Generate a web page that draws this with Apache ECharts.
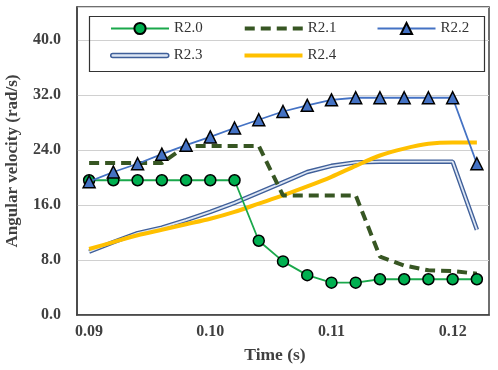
<!DOCTYPE html>
<html>
<head>
<meta charset="utf-8">
<script src="https://cdn.jsdelivr.net/npm/echarts@6/dist/echarts.min.js"></script>
<style>html,body{margin:0;padding:0;background:#fff}#c{width:498px;height:370px}</style>
</head>
<body>
<div id="c"></div>
<script>
var time = [0.090,0.092,0.094,0.096,0.098,0.100,0.102,0.104,0.106,0.108,0.110,0.112,0.114,0.116,0.118,0.120,0.122];
var r20 = [19.6,19.6,19.6,19.6,19.6,19.6,19.6,10.8,7.8,5.8,4.7,4.7,5.2,5.2,5.2,5.2,5.2];
var r21 = [22.1,22.1,22.1,22.1,24.6,24.6,24.6,24.6,17.4,17.4,17.4,17.4,8.5,7.2,6.5,6.4,6.0];
var r22 = [19.4,20.8,22.0,23.4,24.7,25.9,27.2,28.4,29.6,30.5,31.3,31.6,31.6,31.6,31.6,31.6,22.0];
var r23 = [9.2,10.6,11.9,12.7,13.8,15.0,16.3,17.8,19.3,20.8,21.7,22.2,22.3,22.3,22.3,22.3,12.4];
var r24 = [9.6,10.6,11.6,12.4,13.2,14.0,15.0,16.2,17.4,18.7,20.1,21.7,23.2,24.2,24.9,25.1,25.1];
var yTicks = [0, 8, 16, 24, 32, 40];
var xTicks = [0.09, 0.10, 0.11, 0.12];

function pairs(v){ return time.map(function(t,i){ return [t, v[i]]; }); }

var serif = 'Liberation Serif';
var hidden = { opacity: 0 };
var chart = echarts.init(document.getElementById('c'));
chart.setOption({
  animation: false,
  backgroundColor: '#fff',
  grid: { left: 77, right: 9, top: 7, bottom: 55, containLabel: false, outerBoundsMode: 'none',
          show: true, borderColor: '#404040', borderWidth: 1.5, backgroundColor: 'transparent' },
  legend: [
    { data: ['R2.0', { name: 'R2.1', itemStyle: hidden, lineStyle: { width: 4 } }, 'R2.2'],
      left: 110, top: 21, padding: 0, itemWidth: 58, itemHeight: 14, itemGap: 40,
      textStyle: { fontFamily: serif, fontSize: 15, color: '#333' } },
    { data: [
        { name: 'R2.3', icon: 'path://M2,0 L56,0 A2,2 0 0 1 56,4 L2,4 A2,2 0 0 1 2,0 Z',
          itemStyle: { color: '#dde6f4', borderColor: '#3f5f99', borderWidth: 1.5 } },
        { name: 'R2.4', itemStyle: hidden, lineStyle: { width: 4 } }
      ],
      left: 110, top: 48, padding: 0, itemWidth: 58, itemHeight: 14, itemGap: 40,
      textStyle: { fontFamily: serif, fontSize: 15, color: '#333' } }
  ],
  graphic: [
    { type: 'rect', left: 87, top: 14, shape: { width: 395, height: 55 }, style: { fill: 'none', stroke: '#333', lineWidth: 1.2 }, z: 100 }
  ],
  xAxis: {
    type: 'value', min: 0.089, max: 0.123, interval: 0.001,
    name: 'Time (s)', nameLocation: 'middle', nameGap: 31,
    nameTextStyle: { fontFamily: serif, fontSize: 17.5, fontWeight: 'bold', color: '#404040', padding: [0, 16, 0, 0] },
    axisLine: { show: true, lineStyle: { color: '#404040', width: 1.5 } },
    axisTick: { show: false },
    splitLine: { show: false },
    axisLabel: {
      margin: 9, fontFamily: serif, fontSize: 16, fontWeight: 'bold', color: '#404040',
      formatter: function(v){
        for (var i = 0; i < xTicks.length; i++) { if (Math.abs(v - xTicks[i]) < 1e-6) return xTicks[i].toFixed(2); }
        return '';
      }
    }
  },
  yAxis: {
    type: 'value', min: 0, max: 44.8, interval: 8,
    name: 'Angular velocity (rad/s)', nameLocation: 'middle', nameGap: 56,
    nameTextStyle: { fontFamily: serif, fontSize: 17, fontWeight: 'bold', color: '#404040' },
    axisLine: { show: true, lineStyle: { color: '#404040', width: 1.5 } },
    axisTick: { show: false },
    splitLine: { show: true, lineStyle: { color: '#d0d0d0', width: 1.2 } },
    axisLabel: {
      margin: 16, fontFamily: serif, fontSize: 16, fontWeight: 'bold', color: '#404040',
      formatter: function(v){
        for (var i = 0; i < yTicks.length; i++) { if (Math.abs(v - yTicks[i]) < 1e-6) return yTicks[i].toFixed(1); }
        return '';
      }
    }
  },
  series: [
    { name: 'R2.3', type: 'line', data: pairs(r23), symbol: 'none', z: 3,
      lineStyle: { color: '#3f5f99', width: 4.5 }, itemStyle: { color: '#3f5f99' } },
    { name: 'R2.3', type: 'line', data: pairs(r23), symbol: 'none', z: 4,
      lineStyle: { color: '#dde6f4', width: 1.8 }, itemStyle: { color: '#dde6f4' } },
    { name: 'R2.4', type: 'line', data: pairs(r24), symbol: 'none', smooth: 0.3, z: 5,
      lineStyle: { color: '#ffc000', width: 4 }, itemStyle: { color: '#ffc000' } },
    { name: 'R2.1', type: 'line', data: pairs(r21), symbol: 'none', z: 6,
      lineStyle: { color: '#375623', width: 4, type: [10, 6] }, itemStyle: { color: '#375623' } },
    { name: 'R2.0', type: 'line', data: pairs(r20), symbol: 'circle', symbolSize: 11, z: 7,
      lineStyle: { color: '#1aa84b', width: 1.8 },
      itemStyle: { color: '#00b050', borderColor: '#000', borderWidth: 1.5 } },
    { name: 'R2.2', type: 'line', data: pairs(r22), symbol: 'triangle', symbolSize: 12, z: 8,
      lineStyle: { color: '#4472c4', width: 1.8 },
      itemStyle: { color: '#4472c4', borderColor: '#000', borderWidth: 1.5 } }
  ]
});
</script>
</body>
</html>
